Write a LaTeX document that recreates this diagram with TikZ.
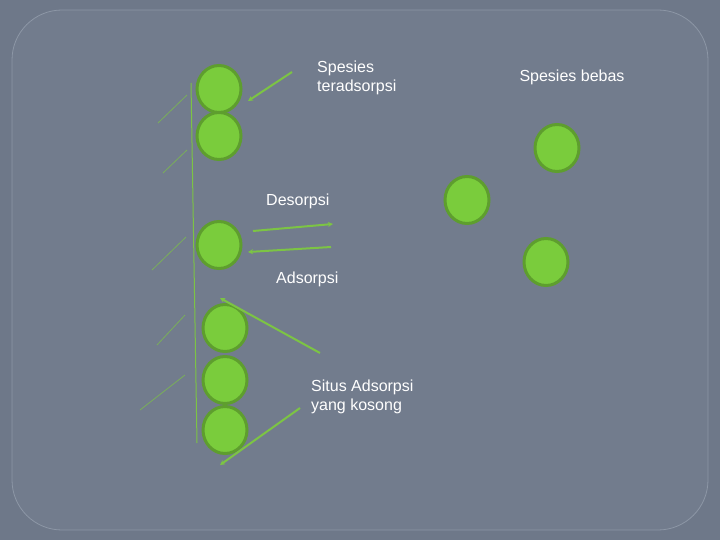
\documentclass[tikz,border=0pt]{standalone}
\usepackage{fontspec}
\setmainfont{Liberation Sans}
\definecolor{outerbg}{HTML}{6E7889}
\definecolor{innerbg}{HTML}{727C8D}
\definecolor{edge}{HTML}{8D97A6}
\definecolor{ball}{HTML}{7ACC3C}
\definecolor{balledge}{HTML}{5E9E2E}
\definecolor{ln}{HTML}{7CC444}
\begin{document}
\begin{tikzpicture}[x=1pt,y=-1pt,
  ballst/.style={ellipse,minimum width=44pt,minimum height=47pt,fill=ball,draw=balledge,line width=3pt,inner sep=0pt},
  hatch/.style={draw=ln!70!innerbg,line width=0.8pt},
  arr/.style={draw=ln,line width=2pt,-{Stealth[length=5pt,width=5pt]}},
  lbl/.style={text=white,font=\fontsize{16}{19}\selectfont,align=left,anchor=west,inner sep=0pt}]
\usetikzlibrary{shapes.geometric,arrows.meta}
\fill[outerbg] (0,0) rectangle (720,540);
\useasboundingbox (0,0) rectangle (720,540);
\draw[edge,fill=innerbg,rounded corners=50pt,line width=0.8pt] (12,10) rectangle (708,530);
\draw[ln,line width=1pt] (191,83) coordinate (vt) -- (197,443) coordinate (vb);
\foreach \a/\b/\c/\d in {158/123/187/95,163/173/187/150,152/270/186/237,157/345/185/315,140/410/185/375}
  \draw[hatch] (\a,\b) -- (\c,\d);
\node[ballst] (b1) at (219,89) {};
\node[ballst] (b2) at (219,136) {};
\node[ballst] (b3) at (219,245) {};
\node[ballst] (b4) at (225,328) {};
\node[ballst] (b5) at (225,380) {};
\node[ballst] (b6) at (225,430) {};
\node[ballst] (f1) at (467,200) {};
\node[ballst] (f2) at (557,148) {};
\node[ballst] (f3) at (546,262) {};
\node[lbl] (t1) at (317,78) {Spesies\\ teradsorpsi};
\node[lbl] (t2) at (266,201) {Desorpsi};
\node[lbl] (t3) at (276,279) {Adsorpsi};
\node[lbl] (t4) at (311,397) {Situs Adsorpsi\\yang kosong};
\node[lbl,anchor=center] (t5) at (572,77) {Spesies bebas};
\coordinate (a1s) at (292,72); \coordinate (a1e) at (248,101);
\coordinate (a2s) at (253,231); \coordinate (a2e) at (333,224);
\coordinate (a3s) at (331,247); \coordinate (a3e) at (248,252);
\coordinate (a4s) at (320,353); \coordinate (a4e) at (220,298);
\coordinate (a5s) at (300,408); \coordinate (a5e) at (220,465);
\draw[arr] (a1s) -- (a1e);
\draw[arr] (a2s) -- (a2e);
\draw[arr] (a3s) -- (a3e);
\draw[arr] (a4s) -- (a4e);
\draw[arr] (a5s) -- (a5e);
\end{tikzpicture}
\end{document}
